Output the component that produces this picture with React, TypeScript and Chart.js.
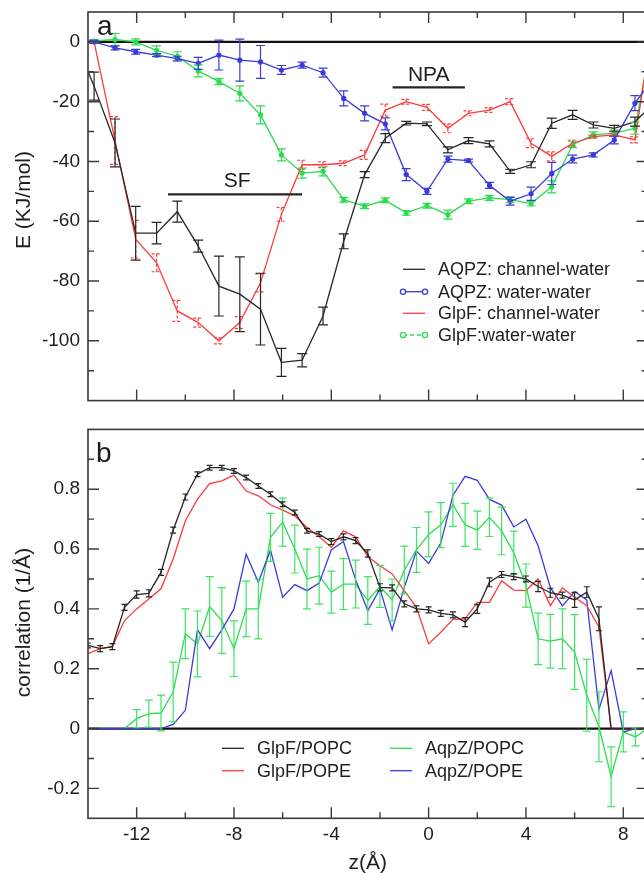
import React, { useEffect, useRef } from 'react';
import { Chart, registerables } from 'chart.js';

Chart.register(...registerables);

const FONT = '"Liberation Sans", Arial, Helvetica, sans-serif';
const BLACK = '#262626';
const RED = '#ff3a3a';
const BLUE = '#3b3bdc';
const GREEN = '#2bdc4f';
const AXIS = '#3a3a3a';
const TXT = '#1e1e1e';

// canvas placement on the page (px)
const A_TOP = -10;
const A_H = 430;
const B_TOP = 410;
const B_H = 470;

// ---------- shared x axis ----------
const xMajorTicks = [-12, -8, -4, 0, 4, 8];
const xMinorTicks = [-10, -6, -2, 2, 6];

// ---------- panel a : interaction energy ----------
const yTicksA = [0, -20, -40, -60, -80, -100];
const yMinorA = [-110, -90, -70, -50, -30, -10];
const zA = [-14.61, -13.75, -12.89, -12.04, -11.18, -10.33, -9.47, -8.62, -7.76, -6.91, -6.05, -5.2, -4.34, -3.49,
  -2.63, -1.78, -0.92, -0.07, 0.79, 1.64, 2.5, 3.35, 4.21, 5.06, 5.92, 6.77, 7.63, 8.48, 9.34];
const aqpzChannel = [2, -14.8, -33.8, -64, -64, -56.8, -68.3, -81.7, -84.4, -89.4, -107.2, -106.5, -91.7, -66.7,
  -44.4, -32.2, -27.2, -27.4, -36.1, -33, -34.1, -43.3, -41.1, -27.2, -24.4, -27.8, -28.9, -26.7, -20];
const aqpzChannelErr = [0, 4.7, 8, 9, 3.6, 3.5, 2, 10, 12.5, 12, 4.7, 2.2, 3, 2.5,
  1, 1.5, 0.6, 0.6, 1, 1, 1, 0.7, 1, 1.7, 1.5, 1, 1, 1.5, 0];
const aqpzWater = [0, 0, -2, -3.3, -4.4, -5.6, -7.2, -4.4, -6.1, -6.7, -9.4, -7.8, -10.3, -18.9,
  -23.9, -27.4, -44.4, -50, -39.2, -39.7, -48, -53.3, -50.8, -44, -39.2, -37.8, -32.8, -20.5, -11];
const aqpzWaterErr = [0, 0.5, 0.7, 0.8, 0.5, 0.8, 2, 5, 7, 5.5, 1.5, 1, 1.5, 2.5,
  2.5, 2, 2, 1, 1, 0.5, 1, 1.3, 2.2, 3.7, 1.3, 0.7, 1.3, 2.5, 0];
const glpfChannel = [null, 0, -33, -66, -73.9, -90, -93.9, -100, -93.9, -80.6, -57.7, -41.1, -41.1, -40.6,
  -37.8, -22.8, -20, -21.9, -28.9, -23.9, -22.8, -20, -33.9, -38.3, -33.9, -31.7, -31.1, -32.8, 13];
const glpfChannelErr = [0, 0.5, 8, 6.3, 3, 3.5, 1.5, 1, 2, 3, 2.3, 1.5, 1, 0.8,
  1.5, 2, 0.8, 1, 1.5, 0.8, 0.8, 1, 1.5, 1.5, 1, 0.5, 0.5, 1, 0];
const glpfWater = [0, 0.3, 0.8, 0, -2.8, -4.8, -9.7, -13.3, -17.2, -24.4, -37.8, -43.9, -43.3, -52.8,
  -55, -53, -57.2, -54.8, -57.8, -53.3, -52.2, -52.8, -54.1, -48.5, -34.4, -31.1, -30.5, -28.9, 8];
const glpfWaterErr = [0, 0.5, 2, 1, 1.5, 1.5, 2, 1, 2.5, 3, 2, 1.7, 1.5, 0.8,
  0.8, 0.8, 0.8, 0.8, 1.5, 0.8, 0.8, 1, 0.8, 2, 1, 1, 1, 2, 0];
const sfRange = [-10.71, -5.2];
const sfLevel = -51;
const npaRange = [-1.48, 1.49];
const npaLevel = -15.2;

// ---------- panel b : correlation ----------
const yTicksB = [0.8, 0.6, 0.4, 0.2, 0, -0.2];
const yMinorB = [0.9, 0.7, 0.5, 0.3, 0.1, -0.1];
const zB = [-14, -13.5, -13, -12.5, -12, -11.5, -11, -10.5, -10, -9.5, -9, -8.5, -8, -7.5, -7, -6.5, -6, -5.5,
  -5, -4.5, -4, -3.5, -3, -2.5, -2, -1.5, -1, -0.5, 0, 0.5, 1, 1.5, 2, 2.5, 3, 3.5, 4, 4.5, 5, 5.5, 6, 6.5,
  7, 7.5, 8, 8.5, 9];
const glpfPOPC = [0.278, 0.267, 0.274, 0.405, 0.448, 0.452, 0.522, 0.663, 0.774, 0.85,
  0.872, 0.872, 0.861, 0.839, 0.811, 0.783, 0.75, 0.722, 0.661, 0.65,
  0.625, 0.641, 0.628, 0.585, 0.472, 0.47, 0.417, 0.4, 0.397, 0.385,
  0.38, 0.356, 0.4, 0.489, 0.515, 0.508, 0.5, 0.475, 0.454, 0.446,
  0.43, 0.456, 0.367, 0, 0, 0, 0];
const glpfPOPCErr = [0.008, 0.01, 0.01, 0.01, 0.012, 0.012, 0.01, 0.01, 0.01, 0.008,
  0.008, 0.008, 0.008, 0.008, 0.008, 0.008, 0.008, 0.008, 0.008, 0.008,
  0.01, 0.01, 0.01, 0.012, 0.012, 0.01, 0.01, 0.01, 0.01, 0.01,
  0.01, 0.015, 0.015, 0.015, 0.01, 0.01, 0.01, 0.017, 0.015, 0.01,
  0.025, 0.018, 0.04, 0, 0, 0, 0];
const glpfPOPE = [0.25, 0.267, 0.274, 0.361, 0.4, 0.433, 0.467, 0.567, 0.694, 0.767,
  0.819, 0.828, 0.847, 0.794, 0.778, 0.748, 0.73, 0.711, 0.672, 0.641,
  0.606, 0.661, 0.641, 0.574, 0.544, 0.517, 0.461, 0.405, 0.283, 0.322,
  0.365, 0.367, 0.422, 0.422, 0.494, 0.463, 0.461, 0.5, 0.411, 0.47,
  0.439, 0.411, 0.34, 0, 0, 0, 0];
const aqpzPOPC = [null, null, null, 0, 0.033, 0.05, 0.052, 0.122, 0.317, 0.283,
  0.408, 0.361, 0.267, 0.4, 0.4, 0.639, 0.69, 0.6, 0.5, 0.511,
  0.456, 0.483, 0.483, 0.428, 0.475, 0.43, 0.53, 0.597, 0.649, 0.68,
  0.748, 0.681, 0.663, 0.706, 0.661, 0.588, 0.478, 0.3, 0.292, 0.3,
  0.256, 0.111, 0.006, -0.161, -0.011, -0.028, 0];
const aqpzPOPCErr = [0, 0, 0, 0, 0.03, 0.045, 0.06, 0.1, 0.083, 0.11,
  0.1, 0.11, 0.093, 0.093, 0.1, 0.08, 0.08, 0.08, 0.1, 0.095,
  0.07, 0.085, 0.08, 0.08, 0.07, 0.07, 0.08, 0.075, 0.075, 0.075,
  0.072, 0.072, 0.064, 0.064, 0.08, 0.072, 0.072, 0.086, 0.09, 0.1,
  0.125, 0.12, 0.117, 0.1, 0.067, 0.03, 0];
const aqpzPOPE = [0, 0, 0, 0, 0, 0, 0, 0.014, 0.061, 0.33,
  0.267, 0.33, 0.4, 0.583, 0.489, 0.597, 0.439, 0.481, 0.461, 0.486,
  0.597, 0.625, 0.497, 0.394, 0.467, 0.33, 0.472, 0.593, 0.552, 0.62,
  0.78, 0.843, 0.83, 0.766, 0.747, 0.674, 0.7, 0.611, 0.472, 0.41,
  0.458, 0.43, 0.064, 0.194, -0.011, 0, 0];

type ErrSet = { z: number[]; vals: (number | null)[]; errs: number[]; color: string; cap: number; dash?: number[]; width?: number };
type LegendItem = { text: string; color: string; x: number; y: number; dash?: number[]; markers?: boolean };

const pts = (z: number[], v: (number | null)[]) => z.map((zz, i) => ({ x: zz, y: v[i] }));

function drawLegend(ctx: CanvasRenderingContext2D, items: LegendItem[]) {
  ctx.save();
  ctx.font = `18px ${FONT}`;
  ctx.textBaseline = 'middle';
  ctx.textAlign = 'left';
  for (const it of items) {
    ctx.strokeStyle = it.color;
    ctx.lineWidth = 1.3;
    ctx.setLineDash(it.dash || []);
    ctx.beginPath();
    ctx.moveTo(it.x, it.y);
    ctx.lineTo(it.x + 22, it.y);
    ctx.stroke();
    ctx.setLineDash([]);
    if (it.markers) {
      for (const mx of [it.x, it.x + 22]) {
        ctx.beginPath();
        ctx.arc(mx, it.y, 2.6, 0, Math.PI * 2);
        ctx.fillStyle = '#fff';
        ctx.fill();
        ctx.stroke();
      }
    }
    ctx.fillStyle = TXT;
    ctx.fillText(it.text, it.x + 35, it.y + 1);
  }
  ctx.restore();
}

function drawYTitle(ctx: CanvasRenderingContext2D, text: string, cx: number, cy: number) {
  ctx.save();
  ctx.translate(cx, cy);
  ctx.rotate(-Math.PI / 2);
  ctx.font = `21px ${FONT}`;
  ctx.fillStyle = TXT;
  ctx.textAlign = 'center';
  ctx.textBaseline = 'middle';
  ctx.fillText(text, 0, 0);
  ctx.restore();
}

function decorPlugin(cfg: { yMajor: number[]; yMinor: number[]; topTicks: boolean; errors: ErrSet[]; after: (chart: any) => void }) {
  return {
    id: 'decor',
    beforeDatasetsDraw(chart: any) {
      const { ctx, chartArea: a, scales } = chart;
      const y0 = scales.y.getPixelForValue(0);
      ctx.save();
      ctx.strokeStyle = '#111';
      ctx.lineWidth = 2.2;
      ctx.beginPath();
      ctx.moveTo(a.left, y0);
      ctx.lineTo(a.right, y0);
      ctx.stroke();
      ctx.restore();
    },
    afterDatasetsDraw(chart: any) {
      const { ctx, chartArea: a, scales: { x, y } } = chart;
      ctx.save();
      ctx.beginPath();
      ctx.rect(a.left, a.top, a.right - a.left, a.bottom - a.top);
      ctx.clip();
      for (const e of cfg.errors) {
        ctx.strokeStyle = e.color;
        ctx.lineWidth = e.width ?? 1.2;
        for (let i = 0; i < e.z.length; i++) {
          const v = e.vals[i];
          const d = e.errs[i];
          if (v == null || !d) continue;
          const px = x.getPixelForValue(e.z[i]);
          const p1 = y.getPixelForValue(v + d);
          const p2 = y.getPixelForValue(v - d);
          ctx.setLineDash(e.dash || []);
          ctx.beginPath();
          ctx.moveTo(px, p1);
          ctx.lineTo(px, p2);
          ctx.moveTo(px - e.cap, p1);
          ctx.lineTo(px + e.cap, p1);
          ctx.moveTo(px - e.cap, p2);
          ctx.lineTo(px + e.cap, p2);
          ctx.stroke();
        }
      }
      ctx.restore();

      // frame and inward ticks
      ctx.save();
      ctx.strokeStyle = AXIS;
      ctx.lineWidth = 1.6;
      ctx.setLineDash([]);
      ctx.strokeRect(a.left, a.top, a.right - a.left, a.bottom - a.top);
      ctx.lineWidth = 1.4;
      ctx.beginPath();
      const vt = (vals: number[], len: number) => {
        for (const v of vals) {
          const py = y.getPixelForValue(v);
          ctx.moveTo(a.left, py); ctx.lineTo(a.left + len, py);
          ctx.moveTo(a.right, py); ctx.lineTo(a.right - len, py);
        }
      };
      const ht = (vals: number[], len: number) => {
        for (const v of vals) {
          const px = x.getPixelForValue(v);
          ctx.moveTo(px, a.bottom); ctx.lineTo(px, a.bottom - len);
          if (cfg.topTicks) { ctx.moveTo(px, a.top); ctx.lineTo(px, a.top + len); }
        }
      };
      vt(cfg.yMajor, 11);
      vt(cfg.yMinor, 6);
      ht(xMajorTicks, 11);
      ht(xMinorTicks, 6);
      ctx.stroke();
      ctx.restore();
    },
    afterDraw(chart: any) {
      cfg.after(chart);
    },
  };
}

const lineDs = (label: string, data: any[], color: string, extra: any = {}) => ({
  label, data, borderColor: color, backgroundColor: color, borderWidth: 1.3,
  pointRadius: 0, tension: 0, fill: false, ...extra,
});

const baseScales = (yMin: number, yMax: number, yTicks: number[], xHeight: number, showX: boolean) => ({
  x: {
    type: 'linear', min: -14, max: 9,
    grid: { display: false, drawTicks: false }, border: { display: false },
    ticks: { display: showX, font: { family: FONT, size: 19 }, color: TXT, padding: 5, callback: (v: any) => String(v) },
    afterBuildTicks: (s: any) => { s.ticks = xMajorTicks.map((v) => ({ value: v })); },
    afterFit: (s: any) => { s.height = xHeight; },
    title: { display: showX, text: 'z(Å)', font: { family: FONT, size: 21 }, color: TXT, padding: { top: 0, bottom: 4.4 } },
  },
  y: {
    type: 'linear', min: yMin, max: yMax,
    grid: { display: false, drawTicks: false }, border: { display: false },
    ticks: { font: { family: FONT, size: 19 }, color: TXT, padding: 8, callback: (v: any) => String(v) },
    afterBuildTicks: (s: any) => { s.ticks = yTicks.map((v) => ({ value: v })); },
    afterFit: (s: any) => { s.width = 88; },
  },
});

export default function App() {
  const refA = useRef<HTMLCanvasElement>(null);
  const refB = useRef<HTMLCanvasElement>(null);

  useEffect(() => {
    const chartA = new Chart(refA.current as HTMLCanvasElement, {
      type: 'line',
      data: {
        datasets: [
          lineDs('AQPZ: channel-water', pts(zA, aqpzChannel), BLACK),
          lineDs('AQPZ: water-water', pts(zA, aqpzWater), BLUE, { pointRadius: 2.6, pointBorderWidth: 0 }),
          lineDs('GlpF: channel-water', pts(zA, glpfChannel), RED),
          lineDs('GlpF:water-water', pts(zA, glpfWater), GREEN, { pointRadius: 2.6, pointBorderWidth: 0 }),
        ],
      },
      options: {
        animation: false, responsive: false,
        layout: { padding: { left: 0, top: 12 - A_TOP, right: 52.4, bottom: 0 } },
        plugins: { legend: { display: false }, tooltip: { enabled: false } },
        scales: baseScales(-120, 10, yTicksA, A_H - (401.7 - A_TOP), false) as any,
      },
      plugins: [decorPlugin({
        yMajor: yTicksA, yMinor: yMinorA, topTicks: true,
        errors: [
          { z: zA, vals: glpfWater, errs: glpfWaterErr, color: GREEN, cap: 4.5 },
          { z: zA, vals: glpfChannel, errs: glpfChannelErr, color: RED, cap: 5, dash: [3, 2] },
          { z: zA, vals: aqpzWater, errs: aqpzWaterErr, color: BLUE, cap: 4.5 },
          { z: zA, vals: aqpzChannel, errs: aqpzChannelErr, color: BLACK, cap: 5 },
        ],
        after: (chart: any) => {
          const { ctx, scales: { x, y } } = chart;
          drawYTitle(ctx, 'E (KJ/mol)', 24, 200 - A_TOP);
          ctx.save();
          ctx.fillStyle = TXT;
          ctx.font = `28px ${FONT}`;
          ctx.textAlign = 'left';
          ctx.textBaseline = 'alphabetic';
          ctx.fillText('a', 97, 35 - A_TOP);
          ctx.strokeStyle = BLACK;
          ctx.lineWidth = 2.2;
          ctx.beginPath();
          const sy = y.getPixelForValue(sfLevel);
          ctx.moveTo(x.getPixelForValue(sfRange[0]), sy);
          ctx.lineTo(x.getPixelForValue(sfRange[1]), sy);
          const ny = y.getPixelForValue(npaLevel);
          ctx.moveTo(x.getPixelForValue(npaRange[0]), ny);
          ctx.lineTo(x.getPixelForValue(npaRange[1]), ny);
          ctx.stroke();
          ctx.font = `21px ${FONT}`;
          ctx.textAlign = 'center';
          ctx.fillText('SF', x.getPixelForValue((sfRange[0] + sfRange[1]) / 2) + 2, sy - 7);
          ctx.fillText('NPA', x.getPixelForValue((npaRange[0] + npaRange[1]) / 2), ny - 6);
          ctx.restore();
          drawLegend(ctx, [
            { text: 'AQPZ: channel-water', color: BLACK, x: 403, y: 269.3 - A_TOP },
            { text: 'AQPZ: water-water', color: BLUE, x: 403, y: 291.7 - A_TOP, markers: true },
            { text: 'GlpF: channel-water', color: RED, x: 403, y: 313.3 - A_TOP },
            { text: 'GlpF:water-water', color: GREEN, x: 403, y: 335 - A_TOP, markers: true, dash: [4, 3] },
          ]);
        },
      })],
    } as any);

    const chartB = new Chart(refB.current as HTMLCanvasElement, {
      type: 'line',
      data: {
        datasets: [
          lineDs('GlpF/POPC', pts(zB, glpfPOPC), BLACK),
          lineDs('GlpF/POPE', pts(zB, glpfPOPE), RED),
          lineDs('AqpZ/POPE', pts(zB, aqpzPOPE), BLUE),
          lineDs('AqpZ/POPC', pts(zB, aqpzPOPC), GREEN),
        ],
      },
      options: {
        animation: false, responsive: false,
        layout: { padding: { left: 0, top: 428 - B_TOP, right: 52.4, bottom: 0 } },
        plugins: { legend: { display: false }, tooltip: { enabled: false } },
        scales: baseScales(-0.3, 1.0, yTicksB, B_H - (818.3 - B_TOP), true) as any,
      },
      plugins: [decorPlugin({
        yMajor: yTicksB, yMinor: yMinorB, topTicks: false,
        errors: [
          { z: zB, vals: aqpzPOPC, errs: aqpzPOPCErr, color: '#3ee463', cap: 4 },
          { z: zB, vals: glpfPOPC, errs: glpfPOPCErr, color: BLACK, cap: 3 },
        ],
        after: (chart: any) => {
          const { ctx } = chart;
          drawYTitle(ctx, 'correlation (1/Å)', 24, 622.5 - B_TOP);
          ctx.save();
          ctx.fillStyle = TXT;
          ctx.font = `28px ${FONT}`;
          ctx.textAlign = 'left';
          ctx.textBaseline = 'alphabetic';
          ctx.fillText('b', 96, 461.7 - B_TOP);
          ctx.restore();
          drawLegend(ctx, [
            { text: 'GlpF/POPC', color: BLACK, x: 222, y: 748.3 - B_TOP },
            { text: 'GlpF/POPE', color: RED, x: 222, y: 770.7 - B_TOP },
            { text: 'AqpZ/POPC', color: GREEN, x: 390, y: 748.3 - B_TOP },
            { text: 'AqpZ/POPE', color: BLUE, x: 390, y: 770.7 - B_TOP },
          ]);
        },
      })],
    } as any);

    return () => {
      chartA.destroy();
      chartB.destroy();
    };
  }, []);

  return (
    <div style={{ position: 'fixed', left: 0, top: 0, width: 644, height: 873, overflow: 'hidden', background: '#fff' }}>
      <canvas ref={refA} width={700} height={A_H} style={{ position: 'absolute', left: 0, top: A_TOP, width: 700, height: A_H }} />
      <canvas ref={refB} width={700} height={B_H} style={{ position: 'absolute', left: 0, top: B_TOP, width: 700, height: B_H }} />
    </div>
  );
}
